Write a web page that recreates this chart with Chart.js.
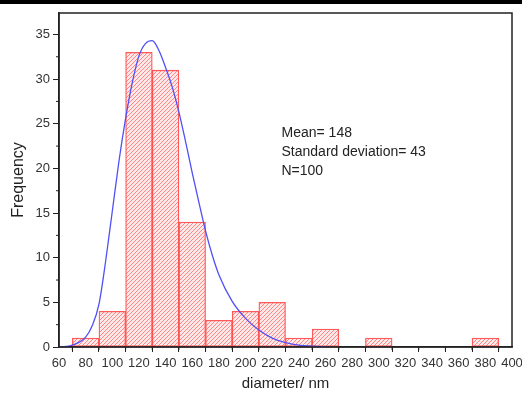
<!DOCTYPE html>
<html>
<head>
<meta charset="utf-8">
<script src="https://cdn.jsdelivr.net/npm/chart.js@4.4.0/dist/chart.umd.min.js"></script>
<style>
  html, body { margin: 0; padding: 0; background: #fff; }
  #wrap { position: relative; width: 522px; height: 396px; }
  #topbar { position: absolute; left: 0; top: 0; width: 522px; height: 4px; background: #000; }
</style>
</head>
<body>
<div id="wrap">
  <canvas id="histChart" width="522" height="396"></canvas>
  <div id="topbar"></div>
</div>
<script>
// histogram bins (bin centres, width 20 nm) and counts
const binCenters = [80, 100, 120, 140, 160, 180, 200, 220, 240, 260, 300, 380];
const counts = [1, 4, 33, 31, 14, 3, 4, 5, 1, 2, 1, 1];

// fitted distribution curve
const fitX = [60, 70, 80, 85, 90, 95, 100, 105, 110, 115, 120, 125, 130, 135, 140, 145, 150, 155, 160, 165, 170, 175, 180, 190, 200, 210, 220, 230, 240, 250, 262];
const fitY = [0, 0.2, 1.1, 2.4, 4.8, 9.6, 15.2, 20.8, 25.6, 29.6, 32.6, 34.0, 34.3, 33.2, 31.3, 29.1, 26.3, 23.0, 19.5, 16.2, 13.0, 10.3, 8.1, 5.1, 3.2, 1.9, 1.0, 0.5, 0.2, 0.1, 0];

const statsText = ["Mean= 148", "Standard deviation= 43", "N=100"];

function hatchPattern() {
  const c = document.createElement("canvas");
  c.width = 4;
  c.height = 4;
  const g = c.getContext("2d");
  g.fillStyle = "rgb(255,232,232)";
  g.fillRect(0, 0, 4, 4);
  g.strokeStyle = "rgb(255,135,135)";
  g.lineWidth = 1;
  g.beginPath();
  g.moveTo(0, 4);
  g.lineTo(4, 0);
  g.moveTo(-1, 1);
  g.lineTo(1, -1);
  g.moveTo(3, 5);
  g.lineTo(5, 3);
  g.stroke();
  return g.createPattern(c, "repeat");
}

// frame, minor ticks and the stats text
const decorations = {
  id: "decorations",
  afterDraw(chart) {
    const { ctx, chartArea: a, scales } = chart;
    ctx.save();
    ctx.strokeStyle = "#222";
    ctx.lineWidth = 1.5;
    ctx.strokeRect(a.left, a.top, a.right - a.left, a.bottom - a.top);

    ctx.lineWidth = 1;
    ctx.beginPath();
    for (let v = 70; v < 400; v += 20) {
      const px = scales.x.getPixelForValue(v);
      ctx.moveTo(px, a.bottom);
      ctx.lineTo(px, a.bottom + 3);
    }
    for (let v = 2.5; v < 37; v += 5) {
      const py = scales.y.getPixelForValue(v);
      ctx.moveTo(a.left, py);
      ctx.lineTo(a.left - 3, py);
    }
    ctx.stroke();

    ctx.fillStyle = "#222";
    ctx.font = "14px 'Liberation Sans', Arial, sans-serif";
    ctx.textBaseline = "middle";
    const tx = scales.x.getPixelForValue(227);
    statsText.forEach((t, i) => {
      const ty = scales.y.getPixelForValue(23.9) + i * 19;
      ctx.fillText(t, tx, ty);
    });
    ctx.restore();
  },
};

const ctx = document.getElementById("histChart").getContext("2d");

new Chart(ctx, {
  type: "bar",
  data: {
    datasets: [
      {
        type: "line",
        data: fitX.map((x, i) => ({ x: x, y: fitY[i] })),
        borderColor: "rgb(80,80,245)",
        borderWidth: 1.3,
        pointRadius: 0,
        cubicInterpolationMode: "monotone",
        fill: false,
        order: 0,
      },
      {
        data: binCenters.map((x, i) => ({ x: x, y: counts[i] })),
        backgroundColor: hatchPattern(),
        borderColor: "rgba(255,60,60,0.85)",
        borderWidth: 1.3,
        borderSkipped: false,
        barPercentage: 1.0,
        categoryPercentage: 1.0,
        order: 1,
      },
    ],
  },
  options: {
    responsive: false,
    animation: false,
    layout: { padding: { left: 0, right: 10, top: 13, bottom: 0 } },
    plugins: { legend: { display: false }, tooltip: { enabled: false } },
    scales: {
      x: {
        type: "linear",
        min: 60,
        max: 400,
        offset: false,
        afterFit: (s) => {
          s.height = 49;
          s.paddingLeft = 0;
          s.paddingRight = 0;
        },
        ticks: {
          stepSize: 20,
          color: "#333",
          font: { family: "'Liberation Sans', Arial, sans-serif", size: 13 },
          padding: 4,
          maxRotation: 0,
          autoSkip: false,
        },
        grid: { drawOnChartArea: false, tickLength: 5, tickColor: "#222", tickWidth: 1 },
        border: { color: "#222", width: 1.5 },
        title: {
          display: true,
          text: "diameter/ nm",
          color: "#222",
          font: { family: "'Liberation Sans', Arial, sans-serif", size: 15 },
          padding: { top: 4, bottom: 3 },
        },
      },
      y: {
        min: 0,
        max: 37.4,
        afterFit: (s) => {
          s.width = 59;
          s.paddingTop = 0;
          s.paddingBottom = 0;
        },
        afterBuildTicks: (s) => { s.ticks = s.ticks.filter((t) => t.value % 5 === 0); },
        ticks: {
          stepSize: 5,
          color: "#333",
          font: { family: "'Liberation Sans', Arial, sans-serif", size: 13 },
          padding: 3,
        },
        grid: { drawOnChartArea: false, tickLength: 6, tickColor: "#222", tickWidth: 1 },
        border: { color: "#222", width: 1.5 },
        title: {
          display: true,
          text: "Frequency",
          color: "#222",
          font: { family: "'Liberation Sans', Arial, sans-serif", size: 16 },
          padding: { top: 9, bottom: 0 },
        },
      },
    },
  },
  plugins: [decorations],
});
</script>
</body>
</html>
